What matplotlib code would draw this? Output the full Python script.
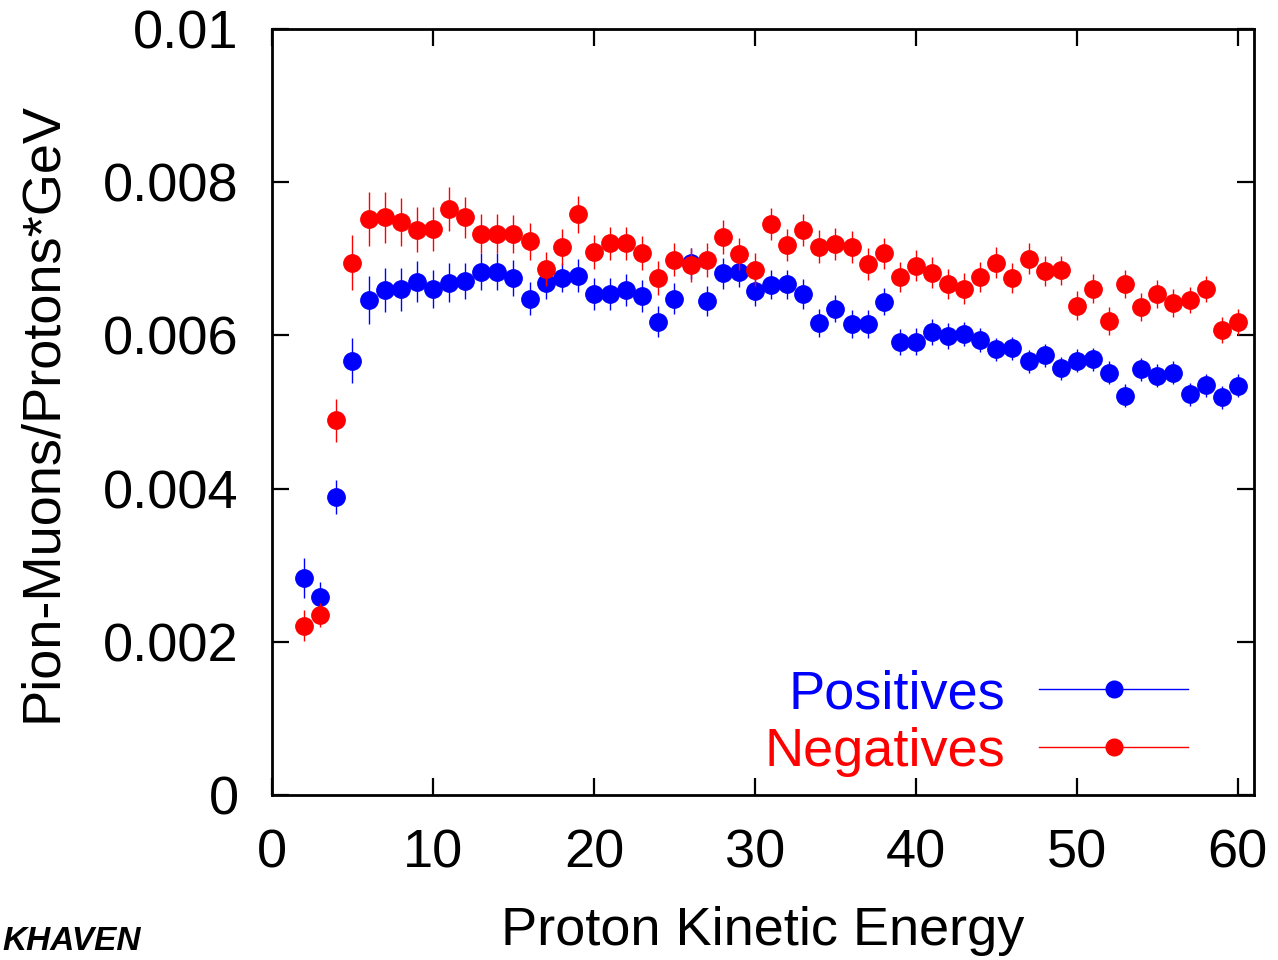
import matplotlib
matplotlib.use("Agg")
import matplotlib.pyplot as plt
from matplotlib.lines import Line2D
from matplotlib.ticker import FixedLocator, FuncFormatter

plt.rcParams['font.family'] = ['Liberation Sans', 'DejaVu Sans']

energy = list(range(2, 61))

positives = [2.83, 2.58, 3.89, 5.67, 6.46, 6.59, 6.60, 6.70, 6.61, 6.69,
             6.71, 6.83, 6.83, 6.75, 6.48, 6.68, 6.75, 6.78, 6.54, 6.54,
             6.59, 6.51, 6.18, 6.48, 6.94, 6.45, 6.81, 6.83, 6.58, 6.66,
             6.67, 6.54, 6.16, 6.35, 6.15, 6.15, 6.44, 5.91, 5.92, 6.05,
             5.99, 6.02, 5.94, 5.82, 5.83, 5.66, 5.74, 5.57, 5.67, 5.69,
             5.51, 5.21, 5.56, 5.47, 5.51, 5.23, 5.35, 5.19, 5.34]
positives_err = [0.26, 0.20, 0.22, 0.29, 0.31, 0.29, 0.28, 0.27, 0.25, 0.25,
                 0.24, 0.24, 0.24, 0.23, 0.22, 0.21, 0.19, 0.22, 0.21, 0.21,
                 0.21, 0.21, 0.20, 0.20, 0.20, 0.20, 0.20, 0.20, 0.19, 0.19,
                 0.19, 0.19, 0.18, 0.18, 0.18, 0.18, 0.18, 0.17, 0.17, 0.17,
                 0.17, 0.16, 0.16, 0.15, 0.15, 0.15, 0.15, 0.15, 0.15, 0.15,
                 0.15, 0.15, 0.15, 0.15, 0.15, 0.15, 0.15, 0.15, 0.15]

negatives = [2.21, 2.35, 4.89, 6.95, 7.52, 7.54, 7.48, 7.38, 7.39, 7.65,
             7.54, 7.33, 7.33, 7.32, 7.23, 6.87, 7.15, 7.58, 7.09, 7.20,
             7.20, 7.08, 6.75, 6.99, 6.92, 6.98, 7.28, 7.06, 6.86, 7.45,
             7.18, 7.38, 7.16, 7.19, 7.15, 6.93, 7.07, 6.76, 6.91, 6.82,
             6.67, 6.61, 6.76, 6.95, 6.75, 7.00, 6.84, 6.85, 6.39, 6.61,
             6.19, 6.67, 6.37, 6.54, 6.42, 6.46, 6.61, 6.07, 6.17]
negatives_err = [0.20, 0.16, 0.28, 0.36, 0.35, 0.33, 0.31, 0.29, 0.29, 0.29,
                 0.27, 0.26, 0.26, 0.25, 0.24, 0.22, 0.235, 0.24, 0.22, 0.22,
                 0.22, 0.22, 0.22, 0.22, 0.22, 0.22, 0.22, 0.21, 0.21, 0.21,
                 0.21, 0.21, 0.21, 0.21, 0.21, 0.21, 0.20, 0.20, 0.20, 0.20,
                 0.20, 0.20, 0.20, 0.20, 0.20, 0.20, 0.19, 0.19, 0.19, 0.19,
                 0.18, 0.18, 0.18, 0.18, 0.18, 0.17, 0.17, 0.17, 0.17]

scale = 1e-3
pos_v = [v * scale for v in positives]
pos_e = [v * scale for v in positives_err]
neg_v = [v * scale for v in negatives]
neg_e = [v * scale for v in negatives_err]

x_ticks = [0, 10, 20, 30, 40, 50, 60]
y_ticks = [0, 0.002, 0.004, 0.006, 0.008, 0.01]
y_tick_labels = ['0', '0.002', '0.004', '0.006', '0.008', '0.01']

BLUE = '#0000ff'
RED = '#ff0000'
FS = 39

fig = plt.figure(figsize=(12.78, 9.6), dpi=100)
ax = fig.add_axes([0.2128, 0.1719, 0.9812 - 0.2128, 0.9698 - 0.1719])

ax.errorbar(energy, pos_v, yerr=pos_e, fmt='o', color=BLUE, ms=12.5,
            elinewidth=1.0, capsize=0, zorder=3)
ax.errorbar(energy, neg_v, yerr=neg_e, fmt='o', color=RED, ms=12.5,
            elinewidth=1.0, capsize=0, zorder=4)

ax.set_xlim(0, 61)
ax.set_ylim(0, 0.01)
ax.xaxis.set_major_locator(FixedLocator(x_ticks))
ax.yaxis.set_major_locator(FixedLocator(y_ticks))
ax.yaxis.set_major_formatter(FuncFormatter(
    lambda v, p: y_tick_labels[y_ticks.index(min(y_ticks, key=lambda t: abs(t - v)))]))

ax.tick_params(direction='in', length=12, width=1.6, labelsize=FS,
               top=True, right=True, pad=24)
for s in ax.spines.values():
    s.set_linewidth(2.0)

ax.set_xlabel('Proton Kinetic Energy', fontsize=FS, labelpad=20)
ax.set_ylabel('Pion-Muons/Protons*GeV', fontsize=FS, labelpad=26)

handles = [Line2D([], [], color=BLUE, marker='o', ms=12, lw=1.0),
           Line2D([], [], color=RED, marker='o', ms=12, lw=1.0)]
leg = ax.legend(handles, ['Positives', 'Negatives'], loc='lower right',
                bbox_to_anchor=(0.955, -0.005), frameon=False, fontsize=FS,
                markerfirst=False, handlelength=2.75, handletextpad=0.62,
                labelspacing=0.15, borderaxespad=0.0)
for t, c in zip(leg.get_texts(), [BLUE, RED]):
    t.set_color(c)

fig.text(0.002, 0.003, 'KHAVEN', fontsize=24, fontweight='heavy',
         color='black', ha='left', va='bottom', style='italic')

fig.savefig('out.png', dpi=100)
